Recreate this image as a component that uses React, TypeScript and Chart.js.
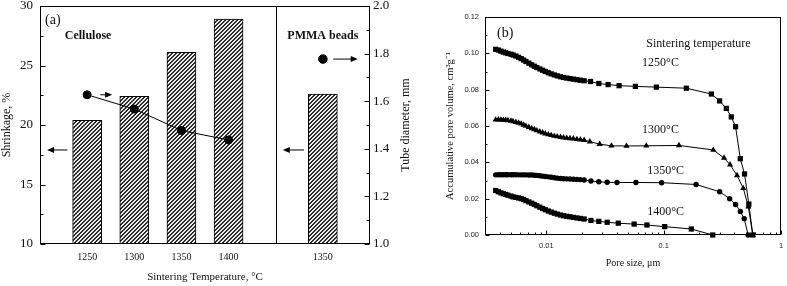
import React, { useEffect, useRef } from 'react';
import { Chart, registerables } from 'chart.js';

Chart.register(...registerables);

// ---------- Panel (a) data ----------
const sinteringLabels = ['', '1250', '1300', '1350', '1400', '', '1350', ''];
const shrinkagePct = [null, 20.4, 22.4, 26.1, 28.9, null, 22.6, null];
const tubeDiameterCellulose = [null, 1.627, 1.567, 1.477, 1.437, null, null, null];
const tubeDiameterPmma = [null, null, null, null, null, null, 1.777, null];

// ---------- Panel (b) data ----------
const densePoreSize = [
  0.0037, 0.0039, 0.0041, 0.0043, 0.0045, 0.0047, 0.005, 0.0052, 0.0055, 0.0058, 0.0061,
  0.0064, 0.0067, 0.0071, 0.0075, 0.0079, 0.0083, 0.0088, 0.0093, 0.0098, 0.0104, 0.011,
  0.0117, 0.0124, 0.0132, 0.014, 0.0149, 0.0159, 0.017, 0.0182, 0.0195, 0.021,
];
const vol1250Dense = [
  0.1022, 0.1018, 0.1012, 0.1007, 0.1003, 0.0999, 0.0995, 0.0991, 0.0985, 0.0978, 0.0971,
  0.0963, 0.0955, 0.0946, 0.0937, 0.0929, 0.0922, 0.0914, 0.0907, 0.09, 0.0893, 0.0887,
  0.0881, 0.0876, 0.0871, 0.0867, 0.0864, 0.0861, 0.0858, 0.0855, 0.0852, 0.0849,
];
const pore1250Tail = [0.0238, 0.028, 0.0336, 0.0417, 0.0574, 0.0866, 0.156, 0.255, 0.3, 0.342, 0.377, 0.41, 0.45, 0.489, 0.532, 0.575];
const vol1250Tail = [0.0845, 0.0834, 0.0828, 0.0822, 0.0818, 0.0814, 0.0808, 0.0776, 0.0738, 0.0697, 0.065, 0.0596, 0.042, 0.0336, 0.017, 0.0];

const vol1300Dense = [
  0.0634, 0.0635, 0.0634, 0.0633, 0.0632, 0.0631, 0.0628, 0.0625, 0.0621, 0.0617, 0.0612,
  0.0606, 0.06, 0.0594, 0.0587, 0.0581, 0.0575, 0.0569, 0.0563, 0.0558, 0.0553, 0.0549,
  0.0545, 0.0542, 0.0539, 0.0536, 0.0534, 0.0532, 0.053, 0.0527, 0.0525, 0.0522,
];
const pore1300Tail = [0.0235, 0.0285, 0.0359, 0.0482, 0.0711, 0.135, 0.265, 0.327, 0.368, 0.422, 0.477, 0.527, 0.575];
const vol1300Tail = [0.0514, 0.05, 0.0491, 0.049, 0.0491, 0.0493, 0.0468, 0.0424, 0.0387, 0.0328, 0.0257, 0.0156, 0.0];

const vol1350Dense = [
  0.0331, 0.0332, 0.0332, 0.0332, 0.0332, 0.0332, 0.0332, 0.0332, 0.0332, 0.0331, 0.0331,
  0.0331, 0.0331, 0.033, 0.033, 0.0329, 0.0328, 0.0326, 0.0324, 0.0322, 0.032, 0.0318,
  0.0315, 0.0313, 0.0311, 0.031, 0.0309, 0.0308, 0.0307, 0.0306, 0.0305, 0.0303,
];
const pore1350Tail = [0.024, 0.028, 0.033, 0.04, 0.058, 0.096, 0.189, 0.3, 0.365, 0.41, 0.45, 0.486, 0.525];
const vol1350Tail = [0.0297, 0.0293, 0.029, 0.0289, 0.0289, 0.0288, 0.0278, 0.0238, 0.02, 0.0168, 0.013, 0.009, 0.0];

const vol1400Dense = [
  0.0245, 0.0238, 0.0232, 0.0227, 0.0223, 0.0219, 0.0214, 0.021, 0.0207, 0.0204, 0.02,
  0.0195, 0.0189, 0.0182, 0.0175, 0.0168, 0.0161, 0.0153, 0.0146, 0.0139, 0.0132, 0.0126,
  0.012, 0.0115, 0.011, 0.0106, 0.0103, 0.01, 0.0097, 0.0094, 0.0091, 0.0088,
];
const pore1400Tail = [0.024, 0.028, 0.033, 0.041, 0.056, 0.072, 0.102, 0.172, 0.262];
const vol1400Tail = [0.008, 0.0075, 0.007, 0.0065, 0.006, 0.0055, 0.0046, 0.0033, 0.0];

const curveLabels = ['1250°C', '1300°C', '1350°C', '1400°C'];

const SERIF = "'Liberation Serif', 'Times New Roman', serif";
const SANS = "'Liberation Sans', Arial, sans-serif";
const INK = '#111';

function toPoints(xs: number[], ys: number[]) {
  return xs.map((x, i) => ({ x, y: ys[i] }));
}

function makeHatch(): CanvasPattern | string {
  const c = document.createElement('canvas');
  c.width = 4;
  c.height = 4;
  const g = c.getContext('2d');
  if (!g) return '#888';
  const img = g.createImageData(4, 4);
  for (let y = 0; y < 4; y++) {
    for (let x = 0; x < 4; x++) {
      const dark = (x + y) % 4 < 2;
      const v = dark ? 45 : 235;
      const i = (y * 4 + x) * 4;
      img.data[i] = v;
      img.data[i + 1] = v;
      img.data[i + 2] = v;
      img.data[i + 3] = 255;
    }
  }
  g.putImageData(img, 0, 0);
  return g.createPattern(c, 'repeat') || '#888';
}

function drawArrow(ctx: CanvasRenderingContext2D, x1: number, y1: number, x2: number, y2: number) {
  const ang = Math.atan2(y2 - y1, x2 - x1);
  const hl = 7;
  const hw = 3;
  const cos = Math.cos(ang);
  const sin = Math.sin(ang);
  ctx.beginPath();
  ctx.moveTo(x1, y1);
  ctx.lineTo(x2 - hl * cos * 0.7, y2 - hl * sin * 0.7);
  ctx.stroke();
  ctx.beginPath();
  ctx.moveTo(x2, y2);
  ctx.lineTo(x2 - hl * cos + hw * sin, y2 - hl * sin - hw * cos);
  ctx.lineTo(x2 - hl * cos - hw * sin, y2 - hl * sin + hw * cos);
  ctx.closePath();
  ctx.fill();
}

function line(ctx: CanvasRenderingContext2D, x1: number, y1: number, x2: number, y2: number) {
  ctx.beginPath();
  ctx.moveTo(x1, y1);
  ctx.lineTo(x2, y2);
  ctx.stroke();
}

const panelAPlugin = {
  id: 'panelADecor',
  afterDraw(chart: any) {
    const { ctx, chartArea: a, scales } = chart;
    const xs = scales.x;
    const ys = scales.y;
    const y1s = scales.y1;
    ctx.save();
    ctx.strokeStyle = '#000';
    ctx.fillStyle = '#000';
    ctx.lineWidth = 1;
    const L = Math.round(a.left) + 0.5;
    const R = Math.round(a.right) - 0.5;
    const T = Math.round(a.top) + 0.5;
    const B = Math.round(a.bottom) - 0.5;
    ctx.strokeRect(L, T, R - L, B - T);
    // divider between Cellulose and PMMA
    const dx = Math.round(xs.getPixelForValue(5)) + 0.5;
    line(ctx, dx, T, dx, B);
    // inward ticks
    ys.ticks.forEach((t: any) => {
      const py = Math.round(ys.getPixelForValue(t.value)) + 0.5;
      const len = t.value % 5 === 0 ? 5 : 3;
      line(ctx, L, py, L + len, py);
    });
    y1s.ticks.forEach((t: any) => {
      const py = Math.round(y1s.getPixelForValue(t.value)) + 0.5;
      const len = Math.round(t.value * 10) % 2 === 0 ? 5 : 3;
      line(ctx, R, py, R - len, py);
    });
    // arrows pointing to the axes
    const arrows = [
      { from: 0.58, to: 0.15, v: 17.9, s: ys },
      { from: 1.28, to: 1.53, v: 1.627, s: y1s },
      { from: 5.6, to: 5.15, v: 17.9, s: ys },
      { from: 6.22, to: 6.74, v: 1.777, s: y1s },
    ];
    arrows.forEach((ar) => {
      const py = ar.s.getPixelForValue(ar.v);
      drawArrow(ctx, xs.getPixelForValue(ar.from), py, xs.getPixelForValue(ar.to), py);
    });
    // texts
    ctx.fillStyle = INK;
    ctx.textBaseline = 'middle';
    ctx.textAlign = 'left';
    ctx.font = `14px ${SERIF}`;
    ctx.fillText('(a)', a.left + 5, a.top + 14);
    ctx.textAlign = 'center';
    ctx.font = `bold 12px ${SERIF}`;
    ctx.fillText('Cellulose', xs.getPixelForValue(1.02), a.top + 30);
    ctx.fillText('PMMA beads', xs.getPixelForValue(6.0), a.top + 30);
    // right axis title (reads bottom to top)
    ctx.font = `12px ${SERIF}`;
    ctx.translate(406, (a.top + a.bottom) / 2);
    ctx.rotate(-Math.PI / 2);
    ctx.fillText('Tube diameter, mm', 0, 0);
    ctx.restore();
  },
};

const panelBPlugin = {
  id: 'panelBDecor',
  afterDraw(chart: any) {
    const { ctx, chartArea: a, scales } = chart;
    const xs = scales.x;
    const ys = scales.y;
    ctx.save();
    ctx.strokeStyle = '#000';
    ctx.lineWidth = 1;
    const L = Math.round(a.left) + 0.5;
    const R = Math.round(a.right) - 0.5;
    const T = Math.round(a.top) + 0.5;
    const B = Math.round(a.bottom) - 0.5;
    ctx.strokeRect(L, T, R - L, B - T);
    ys.ticks.forEach((t: any) => {
      const py = Math.round(ys.getPixelForValue(t.value)) + 0.5;
      const len = Math.round(t.value * 100) % 2 === 0 ? 4 : 2;
      line(ctx, L, py, L + len, py);
    });
    xs.ticks.forEach((t: any) => {
      const v = t.value;
      const e = Math.floor(Math.log10(v) + 1e-9);
      const sig = v / Math.pow(10, e);
      if (Math.abs(sig - Math.round(sig)) > 1e-6) return;
      const px = Math.round(xs.getPixelForValue(v)) + 0.5;
      const len = Math.round(sig) === 1 ? 4 : 2;
      line(ctx, px, B, px, B - len);
    });
    ctx.fillStyle = INK;
    ctx.textBaseline = 'middle';
    ctx.textAlign = 'left';
    ctx.font = `14px ${SERIF}`;
    ctx.fillText('(b)', a.left + 12, a.top + 16);
    ctx.textAlign = 'center';
    ctx.font = `12px ${SERIF}`;
    ctx.fillText('Sintering temperature', xs.getPixelForValue(0.198), a.top + 27);
    const labelPos = [
      { x: 0.094, y: 0.0945 },
      { x: 0.094, y: 0.0578 },
      { x: 0.104, y: 0.0355 },
      { x: 0.104, y: 0.013 },
    ];
    curveLabels.forEach((t, i) => {
      ctx.fillText(t, xs.getPixelForValue(labelPos[i].x), ys.getPixelForValue(labelPos[i].y));
    });
    ctx.restore();
  },
};

export default function App() {
  const refA = useRef<HTMLCanvasElement>(null);
  const refB = useRef<HTMLCanvasElement>(null);

  useEffect(() => {
    const hatch = makeHatch();
    const chartA = new Chart(refA.current as HTMLCanvasElement, {
      type: 'bar',
      data: {
        labels: sinteringLabels,
        datasets: [
          {
            type: 'line',
            label: 'Tube diameter (cellulose)',
            data: tubeDiameterCellulose as any,
            yAxisID: 'y1',
            borderColor: '#000',
            backgroundColor: '#000',
            borderWidth: 1,
            pointRadius: 4,
            pointBackgroundColor: '#000',
            pointBorderColor: '#000',
            spanGaps: false,
            order: 0,
          } as any,
          {
            type: 'line',
            label: 'Tube diameter (PMMA)',
            data: tubeDiameterPmma as any,
            yAxisID: 'y1',
            showLine: false,
            borderColor: '#000',
            backgroundColor: '#000',
            pointRadius: 4.3,
            pointBackgroundColor: '#000',
            pointBorderColor: '#000',
            order: 0,
          } as any,
          {
            type: 'bar',
            label: 'Shrinkage',
            data: shrinkagePct as any,
            yAxisID: 'y',
            backgroundColor: hatch as any,
            borderColor: '#000',
            borderWidth: 1,
            barThickness: 29,
            order: 5,
          } as any,
        ],
      },
      options: {
        responsive: false,
        animation: false,
        layout: { padding: { top: 6, left: 0, right: 0, bottom: 0 } },
        plugins: { legend: { display: false }, tooltip: { enabled: false } },
        scales: {
          x: {
            type: 'category',
            offset: false,
            grid: { display: false, drawTicks: false },
            border: { display: false },
            ticks: { autoSkip: false, maxRotation: 0, padding: 7, color: INK, font: { family: SERIF, size: 10 } },
            title: {
              display: true,
              text: 'Sintering Temperature, °C',
              color: INK,
              font: { family: SERIF, size: 11 },
              padding: { top: 0, bottom: 2.4 },
            },
            afterFit(s: any) {
              s.height = 42;
              s.paddingLeft = 0;
              s.paddingRight = 0;
            },
          },
          y: {
            position: 'left',
            min: 10,
            max: 30,
            grid: { display: false, drawTicks: false },
            border: { display: false },
            ticks: {
              stepSize: 2.5,
              padding: 7,
              color: INK,
              font: { family: SERIF, size: 13 },
              callback: (v: any) => (Number(v) % 5 === 0 ? String(v) : ''),
            },
            title: { display: true, text: 'Shrinkage, %', color: INK, font: { family: SERIF, size: 12 }, padding: 0 },
            afterFit(s: any) {
              s.width = 40;
              s.paddingTop = 0;
              s.paddingBottom = 0;
            },
          },
          y1: {
            position: 'right',
            min: 1,
            max: 2,
            grid: { display: false, drawTicks: false },
            border: { display: false },
            ticks: {
              stepSize: 0.1,
              padding: 3,
              color: INK,
              font: { family: SERIF, size: 13 },
              callback: (v: any) => (Math.round(Number(v) * 10) % 2 === 0 ? Number(v).toFixed(1) : ''),
            },
            afterFit(s: any) {
              s.width = 50;
              s.paddingTop = 0;
              s.paddingBottom = 0;
            },
          },
        },
      } as any,
      plugins: [panelAPlugin],
    });

    const common = {
      borderColor: '#000',
      backgroundColor: '#000',
      pointBackgroundColor: '#000',
      pointBorderColor: '#000',
      pointBorderWidth: 0,
      borderWidth: 1,
      clip: false,
      tension: 0,
    };

    const chartB = new Chart(refB.current as HTMLCanvasElement, {
      type: 'line',
      data: {
        datasets: [
          {
            ...common,
            label: curveLabels[0],
            data: toPoints([...densePoreSize, ...pore1250Tail], [...vol1250Dense, ...vol1250Tail]),
            pointStyle: 'rect',
            pointRadius: 3.7,
          },
          {
            ...common,
            label: curveLabels[1],
            data: toPoints([...densePoreSize, ...pore1300Tail], [...vol1300Dense, ...vol1300Tail]),
            pointStyle: 'triangle',
            pointRadius: 3.6,
          },
          {
            ...common,
            label: curveLabels[2],
            data: toPoints([...densePoreSize, ...pore1350Tail], [...vol1350Dense, ...vol1350Tail]),
            pointStyle: 'circle',
            pointRadius: 2.7,
          },
          {
            ...common,
            label: curveLabels[3],
            data: toPoints([...densePoreSize, ...pore1400Tail], [...vol1400Dense, ...vol1400Tail]),
            pointStyle: 'rect',
            pointRadius: 3.7,
          },
        ] as any,
      },
      options: {
        responsive: false,
        animation: false,
        layout: { padding: { top: 17, left: 0, right: 6, bottom: 0 } },
        plugins: { legend: { display: false }, tooltip: { enabled: false } },
        scales: {
          x: {
            type: 'logarithmic',
            min: 0.003,
            max: 1,
            grid: { display: false, drawTicks: false },
            border: { display: false },
            ticks: {
              autoSkip: false,
              maxRotation: 0,
              padding: 6,
              color: '#222',
              font: { family: SANS, size: 7.5 },
              callback: (v: any) => {
                const l = Math.log10(Number(v));
                return Math.abs(l - Math.round(l)) < 1e-6 ? String(Number(Number(v).toPrecision(1))) : '';
              },
            },
            title: {
              display: true,
              text: 'Pore size, μm',
              color: INK,
              font: { family: SERIF, size: 10 },
              padding: { top: 0, bottom: 17 },
            },
            afterFit(s: any) {
              s.height = 51;
              s.paddingLeft = 0;
              s.paddingRight = 0;
            },
          },
          y: {
            type: 'linear',
            min: 0,
            max: 0.12,
            grid: { display: false, drawTicks: false },
            border: { display: false },
            ticks: {
              stepSize: 0.01,
              padding: 6,
              color: '#222',
              font: { family: SANS, size: 7.5 },
              callback: (v: any) => (Math.round(Number(v) * 100) % 2 === 0 ? Number(v).toFixed(2) : ''),
            },
            title: {
              display: true,
              text: 'Accumulative pore volume, cm³g⁻¹',
              color: INK,
              font: { family: SERIF, size: 10.5 },
              padding: { top: 23.7, bottom: 0 },
            },
            afterFit(s: any) {
              s.width = 65;
              s.paddingTop = 0;
              s.paddingBottom = 0;
            },
          },
        },
      } as any,
      plugins: [panelBPlugin],
    });

    return () => {
      chartA.destroy();
      chartB.destroy();
    };
  }, []);

  return (
    <div style={{ position: 'absolute', left: 0, top: 0, width: 787, height: 286, background: '#fff' }}>
      <canvas
        ref={refA}
        width={420}
        height={286}
        style={{ position: 'absolute', left: 0, top: 0, width: 420, height: 286 }}
      />
      <canvas
        ref={refB}
        width={367}
        height={286}
        style={{ position: 'absolute', left: 420, top: 0, width: 367, height: 286 }}
      />
    </div>
  );
}
